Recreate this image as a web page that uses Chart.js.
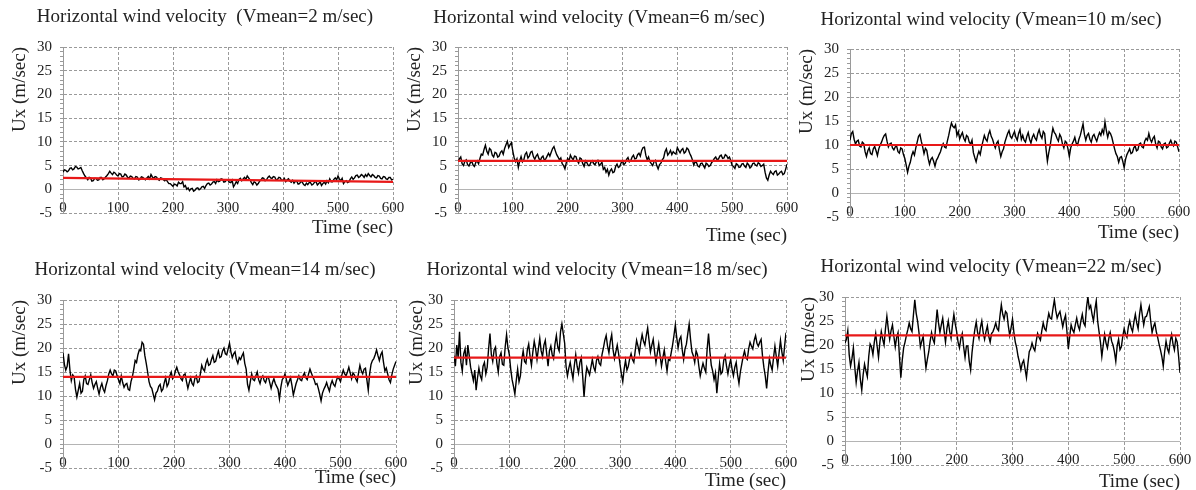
<!DOCTYPE html>
<html>
<head>
<meta charset="utf-8">
<script src="https://cdn.jsdelivr.net/npm/chart.js@4.4.0/dist/chart.umd.min.js"></script>
<style>
html, body { margin: 0; padding: 0; background: #fff; overflow: hidden; }
body { width: 1196px; height: 490px; position: relative; }
.panel { position: absolute; }
</style>
</head>
<body>
<div class="panel" id="p0"><canvas id="c0"></canvas></div>
<div class="panel" id="p1"><canvas id="c1"></canvas></div>
<div class="panel" id="p2"><canvas id="c2"></canvas></div>
<div class="panel" id="p3"><canvas id="c3"></canvas></div>
<div class="panel" id="p4"><canvas id="c4"></canvas></div>
<div class="panel" id="p5"><canvas id="c5"></canvas></div>
<script>
// time axis (sec): main samples and the in-between samples
const time = [
  0, 5, 10, 15, 20, 25, 30, 35, 40, 45,
  50, 55, 60, 65, 70, 75, 80, 85, 90, 95,
  100, 105, 110, 115, 120, 125, 130, 135, 140, 145,
  150, 155, 160, 165, 170, 175, 180, 185, 190, 195,
  200, 205, 210, 215, 220, 225, 230, 235, 240, 245,
  250, 255, 260, 265, 270, 275, 280, 285, 290, 295,
  300, 305, 310, 315, 320, 325, 330, 335, 340, 345,
  350, 355, 360, 365, 370, 375, 380, 385, 390, 395,
  400, 405, 410, 415, 420, 425, 430, 435, 440, 445,
  450, 455, 460, 465, 470, 475, 480, 485, 490, 495,
  500, 505, 510, 515, 520, 525, 530, 535, 540, 545,
  550, 555, 560, 565, 570, 575, 580, 585, 590, 595,
  600
];
const timeMid = [
  2.5, 7.5, 12.5, 17.5, 22.5, 27.5, 32.5, 37.5, 42.5, 47.5,
  52.5, 57.5, 62.5, 67.5, 72.5, 77.5, 82.5, 87.5, 92.5, 97.5,
  102.5, 107.5, 112.5, 117.5, 122.5, 127.5, 132.5, 137.5, 142.5, 147.5,
  152.5, 157.5, 162.5, 167.5, 172.5, 177.5, 182.5, 187.5, 192.5, 197.5,
  202.5, 207.5, 212.5, 217.5, 222.5, 227.5, 232.5, 237.5, 242.5, 247.5,
  252.5, 257.5, 262.5, 267.5, 272.5, 277.5, 282.5, 287.5, 292.5, 297.5,
  302.5, 307.5, 312.5, 317.5, 322.5, 327.5, 332.5, 337.5, 342.5, 347.5,
  352.5, 357.5, 362.5, 367.5, 372.5, 377.5, 382.5, 387.5, 392.5, 397.5,
  402.5, 407.5, 412.5, 417.5, 422.5, 427.5, 432.5, 437.5, 442.5, 447.5,
  452.5, 457.5, 462.5, 467.5, 472.5, 477.5, 482.5, 487.5, 492.5, 497.5,
  502.5, 507.5, 512.5, 517.5, 522.5, 527.5, 532.5, 537.5, 542.5, 547.5,
  552.5, 557.5, 562.5, 567.5, 572.5, 577.5, 582.5, 587.5, 592.5, 597.5
];

// Ux (m/sec)
const ux2 = [
  3.6, 4.0, 3.9, 4.5, 4.3, 4.7, 4.4, 3.9, 2.8, 2.0,
  2.4, 1.8, 2.3, 2.0, 2.5, 2.2, 2.9, 3.8, 3.1, 3.4,
  2.8, 3.2, 2.7, 3.0, 2.4, 2.7, 2.2, 2.6, 2.1, 2.5,
  2.0, 2.7, 3.1, 2.3, 2.6, 1.9, 2.3, 1.8, 1.6, 1.2,
  0.6, 1.0, 1.5, 1.2, 0.5, 0.0, -0.3, 0.2, -0.2, 0.3,
  0.1, 0.6, 0.8, 1.3, 1.1, 1.6, 2.0, 1.7, 2.1, 1.6,
  1.9, 1.4, 0.5, 1.6, 2.1, 1.8, 2.5, 2.8, 2.0, 1.0,
  1.4, 1.2, 2.0, 2.3, 2.0, 2.8, 2.3, 2.6, 2.1, 2.4,
  1.9, 1.6, 2.2, 1.5, 1.3, 1.7, 1.2, 1.5, 0.8, 1.0,
  1.4, 1.1, 1.6, 1.2, 0.8, 1.5, 1.8, 2.2, 1.6, 2.4,
  2.8, 1.8, 1.2, 1.8, 1.6, 2.6, 2.4, 3.0, 2.7, 2.9,
  3.1, 3.3, 2.6, 2.9, 2.4, 2.8, 2.2, 2.6, 2.1, 2.5,
  2.1
];
const ux2Mid = [
  4.1, 3.7, 4.4, 4.1, 4.8, 4.3, 4.6, 3.3, 2.4, 2.5,
  1.7, 2.3, 1.9, 2.5, 2.0, 2.6, 3.3, 3.4, 3.6, 3.0,
  3.3, 2.6, 3.2, 2.5, 2.8, 2.3, 2.7, 2.0, 2.6, 2.2,
  2.4, 2.2, 2.6, 2.7, 2.1, 2.4, 2.0, 2.1, 1.2, 0.9,
  1.1, 0.7, 1.2, 1.6, 0.8, 0.3, 0.1, -0.4, 0.2, -0.1,
  0.5, 0.2, 1.2, 0.9, 1.5, 1.2, 1.6, 2.2, 1.5, 2.0,
  1.5, 1.9, 1.0, 1.2, 2.3, 2.2, 2.1, 2.4, 1.4, 1.6,
  0.9, 1.7, 2.4, 1.8, 2.5, 2.4, 2.7, 2.0, 2.5, 1.9,
  2.3, 2.0, 1.7, 1.9, 1.7, 1.1, 1.6, 1.0, 1.3, 1.4,
  0.9, 1.5, 0.9, 1.6, 1.2, 1.1, 1.4, 1.6, 2.1, 2.0,
  2.2, 2.3, 1.6, 1.4, 2.2, 2.1, 2.9, 2.5, 3.1, 2.5,
  2.7, 2.9, 3.1, 2.5, 2.9, 2.3, 2.7, 2.2, 2.5, 2.0
];
const ux6 = [
  5.8, 6.8, 5.0, 6.2, 4.9, 5.9, 4.8, 6.0, 6.5, 7.2,
  9.3, 7.4, 8.3, 6.8, 7.6, 7.0, 8.1, 8.6, 10.1, 9.4,
  8.0, 5.8, 4.6, 6.9, 6.2, 7.8, 7.0, 8.0, 6.3, 7.4,
  6.0, 7.0, 6.4, 7.6, 7.8, 9.0, 7.3, 6.2, 5.4, 4.3,
  6.5, 7.2, 6.2, 6.9, 5.5, 6.4, 4.8, 5.6, 5.0, 6.0,
  5.2, 6.1, 5.3, 4.2, 3.6, 3.0, 4.3, 3.7, 5.3, 4.8,
  6.0, 5.5, 6.7, 6.0, 7.2, 6.5, 7.6, 8.2, 8.9, 6.2,
  5.8, 5.0, 6.1, 4.3, 5.5, 6.6, 8.5, 7.6, 7.3, 7.6,
  8.8, 7.7, 8.6, 7.9, 8.4, 7.0, 5.1, 5.6, 4.7, 5.5,
  4.5, 5.3, 5.0, 6.0, 6.8, 6.4, 7.2, 6.6, 7.1, 6.8,
  5.0, 4.4, 5.2, 4.7, 5.4, 4.6, 5.2, 4.8, 5.5, 4.9,
  5.4, 5.0, 3.6, 1.9, 3.8, 3.1, 3.9, 3.2, 3.8, 3.3,
  5.3
];
const ux6Mid = [
  6.4, 5.4, 5.9, 5.2, 5.6, 5.1, 5.7, 5.4, 7.4, 8.4,
  8.0, 8.6, 7.2, 7.8, 6.8, 7.8, 7.4, 9.4, 8.8, 9.8,
  6.6, 6.4, 6.0, 5.8, 7.4, 6.6, 7.8, 6.9, 7.0, 6.5,
  6.7, 6.1, 7.0, 7.0, 8.6, 8.1, 6.8, 6.6, 5.0, 5.6,
  6.0, 6.6, 7.0, 6.0, 6.6, 5.4, 6.0, 5.0, 5.7, 5.4,
  5.8, 5.0, 5.7, 4.6, 4.2, 3.9, 3.5, 4.8, 4.6, 5.6,
  5.2, 6.3, 5.8, 6.8, 6.4, 7.3, 7.0, 8.8, 7.2, 6.8,
  5.4, 5.8, 5.0, 5.2, 6.2, 7.9, 7.2, 8.2, 7.9, 7.4,
  8.2, 8.3, 7.6, 8.7, 7.6, 6.2, 5.8, 4.9, 5.4, 5.0,
  5.5, 4.8, 5.6, 6.5, 6.2, 7.0, 6.5, 7.3, 6.5, 6.0,
  4.8, 5.4, 4.6, 5.3, 4.9, 5.5, 4.5, 5.4, 5.1, 5.6,
  4.8, 5.3, 2.4, 3.0, 3.4, 3.7, 3.0, 3.6, 3.1, 4.2
];
const ux10 = [
  11.0, 12.8, 10.2, 11.0, 9.6, 10.3, 7.6, 9.4, 8.0, 9.7,
  7.8, 10.0, 11.4, 12.3, 9.6, 10.4, 9.0, 9.8, 8.3, 9.2,
  7.2, 4.3, 6.4, 8.6, 9.4, 11.8, 10.8, 8.2, 8.9, 6.0,
  7.4, 5.6, 7.3, 8.6, 10.3, 9.4, 12.0, 14.6, 13.6, 12.0,
  11.3, 12.6, 10.8, 11.7, 10.2, 8.4, 6.5, 8.7, 9.6, 12.0,
  10.8, 13.0, 11.2, 9.4, 10.8, 7.6, 9.2, 11.5, 13.0, 11.4,
  12.8, 11.0, 13.2, 12.0, 10.6, 12.6, 10.4, 12.2, 11.0, 13.2,
  11.4, 12.4, 6.6, 9.8, 13.5, 12.2, 10.8, 11.6, 9.4, 10.5,
  7.6, 10.2, 11.6, 10.0, 12.0, 14.4, 11.0, 12.4, 10.6, 12.2,
  10.8, 12.6, 13.2, 14.8, 11.6, 12.4, 10.4, 8.2, 6.4, 7.6,
  5.3, 8.0, 9.2, 8.4, 9.8, 9.0, 10.4, 9.4, 11.4, 12.4,
  10.6, 11.8, 9.4, 10.6, 9.2, 10.4, 9.6, 11.0, 9.8, 10.6,
  8.6
];
const ux10Mid = [
  12.4, 11.2, 10.8, 9.8, 10.6, 8.6, 8.8, 8.2, 9.2, 8.8,
  9.2, 10.6, 12.0, 10.8, 10.2, 9.4, 9.6, 8.6, 9.4, 8.0,
  5.8, 5.6, 7.8, 7.9, 10.6, 12.2, 9.6, 9.3, 7.2, 7.0,
  6.6, 6.8, 8.0, 9.6, 9.6, 10.8, 13.4, 13.9, 14.2, 12.8,
  12.0, 11.4, 12.0, 10.6, 11.0, 7.4, 7.8, 8.0, 10.8, 11.2,
  12.2, 11.8, 10.2, 10.4, 9.0, 8.6, 10.6, 12.4, 11.8, 12.2,
  11.6, 12.4, 11.2, 11.0, 11.8, 11.2, 11.6, 11.4, 12.4, 12.0,
  12.8, 9.2, 8.4, 11.8, 12.6, 11.4, 12.2, 10.2, 10.8, 9.2,
  9.4, 10.8, 10.4, 11.2, 13.2, 12.2, 12.0, 11.2, 11.8, 11.4,
  11.8, 12.0, 12.4, 13.0, 12.8, 11.6, 9.2, 7.6, 7.4, 6.6,
  7.0, 8.6, 8.2, 9.4, 8.8, 10.2, 9.6, 10.8, 11.0, 11.2,
  11.4, 10.2, 10.8, 9.6, 10.2, 9.4, 10.4, 10.2, 10.8, 9.6
];
const ux14 = [
  19.0, 15.4, 18.8, 13.2, 14.0, 9.8, 12.6, 11.0, 14.2, 12.4,
  14.4, 11.6, 13.0, 10.4, 12.6, 10.8, 13.2, 15.4, 14.2, 15.2,
  13.4, 14.2, 11.8, 12.6, 11.2, 14.0, 17.4, 18.6, 19.4, 20.8,
  16.8, 13.0, 11.6, 9.2, 11.0, 12.4, 11.4, 13.8, 12.6, 15.0,
  14.0, 16.0, 14.4, 13.2, 14.6, 11.6, 13.8, 12.2, 14.2, 13.0,
  16.4, 15.2, 17.6, 16.6, 18.4, 17.2, 19.4, 18.2, 20.0, 18.6,
  21.0, 18.0, 19.2, 16.8, 17.6, 19.0, 15.6, 11.2, 14.6, 13.2,
  15.0, 12.6, 14.2, 12.8, 14.0, 11.6, 13.6, 12.0, 9.4, 13.4,
  14.6, 12.2, 13.8, 10.2, 12.6, 14.2, 13.2, 14.8, 13.4, 15.6,
  14.0, 12.4, 11.6, 9.0, 11.4, 12.8, 11.0, 13.2, 12.0, 14.0,
  13.0, 15.4, 14.2, 16.0, 13.6, 14.4, 13.0, 16.4, 14.6, 15.8,
  11.2, 16.6, 17.8, 19.6, 17.4, 19.2, 15.2, 14.6, 12.8, 15.6,
  17.2
];
const ux14Mid = [
  16.6, 16.2, 15.4, 14.4, 11.4, 11.2, 10.6, 13.4, 12.6, 13.4,
  12.8, 12.4, 11.6, 11.8, 11.4, 12.2, 14.6, 14.6, 15.4, 14.2,
  12.6, 12.8, 12.4, 11.4, 13.0, 15.6, 17.0, 19.6, 21.2, 18.4,
  15.0, 12.0, 10.4, 10.6, 12.0, 11.0, 12.8, 12.0, 14.2, 13.6,
  15.2, 15.0, 13.6, 14.4, 13.0, 12.8, 12.6, 13.6, 12.8, 14.6,
  15.6, 16.8, 16.4, 17.6, 17.0, 18.4, 18.0, 19.4, 18.8, 19.8,
  19.2, 18.8, 17.6, 18.0, 18.4, 16.8, 12.4, 13.0, 13.4, 14.2,
  13.4, 13.8, 13.2, 13.8, 12.8, 12.8, 12.6, 11.4, 11.8, 13.8,
  13.4, 13.0, 12.2, 11.4, 13.4, 13.4, 14.2, 13.8, 14.6, 14.8,
  13.4, 12.6, 10.4, 10.6, 12.0, 11.8, 12.4, 12.4, 13.2, 13.6,
  14.4, 14.6, 15.0, 14.8, 14.8, 13.6, 14.8, 15.2, 15.6, 13.4,
  14.6, 17.4, 18.6, 18.4, 18.6, 17.0, 15.8, 13.4, 14.4, 16.4
];
const ux18 = [
  18.4, 20.6, 23.4, 15.2, 19.8, 20.6, 16.0, 13.2, 11.2, 15.8,
  13.4, 17.0, 16.0, 23.0, 17.2, 20.2, 15.0, 19.0, 16.4, 22.8,
  18.6, 13.4, 10.4, 15.6, 14.2, 19.4, 16.8, 20.8, 16.4, 21.4,
  17.6, 22.0, 18.2, 21.6, 16.2, 20.4, 17.8, 22.6, 19.4, 25.0,
  21.0, 14.2, 17.0, 13.6, 18.6, 14.8, 18.0, 9.8, 16.0, 14.4,
  17.6, 15.2, 18.2, 16.4, 20.0, 22.6, 19.0, 22.8, 17.8, 20.6,
  16.6, 13.0, 17.4, 16.2, 18.8, 17.0, 21.6, 19.0, 22.8, 20.6,
  24.2, 19.2, 21.8, 17.0, 20.8, 16.2, 19.6, 15.2, 17.4, 20.6,
  24.8, 20.0, 22.4, 17.6, 20.8, 25.0, 19.2, 17.0, 18.6, 14.2,
  16.8, 15.0, 23.0, 16.4, 13.4, 10.6, 16.8, 15.0, 18.4, 14.6,
  17.6, 14.2, 17.0, 12.6, 16.6, 19.4, 17.6, 21.2, 19.8, 22.6,
  20.4, 21.8, 16.0, 11.6, 17.8, 15.4, 20.4, 16.2, 21.6, 17.4,
  23.2
];
const ux18Mid = [
  16.2, 18.0, 17.0, 18.8, 16.4, 18.4, 14.6, 15.4, 13.8, 14.2,
  16.2, 14.6, 19.8, 18.6, 19.6, 16.8, 18.2, 16.6, 20.2, 20.0,
  15.6, 12.0, 13.2, 13.0, 17.6, 17.2, 19.6, 18.2, 19.2, 19.8,
  19.8, 19.4, 20.6, 18.8, 19.4, 18.6, 20.8, 20.2, 23.4, 23.0,
  16.2, 15.8, 15.2, 16.4, 16.2, 17.0, 14.2, 13.6, 15.2, 16.0,
  16.0, 17.4, 16.8, 18.6, 21.6, 20.4, 21.4, 19.6, 19.2, 18.8,
  14.6, 15.6, 15.4, 17.8, 17.6, 19.4, 20.4, 21.2, 21.4, 22.6,
  21.6, 20.6, 19.2, 19.0, 18.4, 18.0, 17.2, 17.6, 19.0, 22.6,
  22.2, 21.8, 19.6, 19.8, 23.0, 21.8, 18.4, 19.4, 16.2, 15.6,
  15.8, 19.8, 19.2, 15.2, 14.8, 13.8, 14.6, 17.4, 16.2, 16.4,
  15.6, 16.0, 14.4, 15.0, 18.2, 18.0, 19.8, 20.4, 21.6, 21.0,
  21.2, 18.4, 14.2, 15.0, 16.4, 18.0, 18.2, 19.0, 19.2, 20.4
];
const ux22 = [
  20.4, 23.0, 15.6, 19.4, 12.2, 16.4, 10.6, 16.0, 13.4, 20.2,
  18.0, 22.4, 17.4, 22.8, 20.0, 26.0, 21.2, 24.2, 19.6, 22.6,
  13.2, 19.4, 22.0, 24.6, 22.8, 29.4, 25.0, 19.6, 21.8, 15.2,
  18.6, 22.6, 20.4, 27.4, 22.6, 25.6, 20.6, 25.0, 21.4, 26.4,
  22.8, 19.4, 22.4, 17.4, 19.8, 14.8, 21.0, 24.8, 21.4, 25.0,
  21.2, 24.0, 20.6, 22.8, 24.6, 23.0, 28.4, 25.4, 26.6, 22.0,
  25.4, 20.6, 17.6, 14.8, 16.8, 13.2, 18.6, 20.4, 18.8, 22.4,
  21.0, 24.6, 23.0, 26.6, 25.4, 29.4, 25.6, 27.0, 23.8, 26.2,
  19.2, 24.2, 22.6, 25.6, 23.2, 26.4, 24.0, 30.0, 28.2, 25.0,
  29.2, 22.8, 17.6, 22.2, 19.4, 22.6, 20.0, 16.6, 21.2, 19.6,
  23.4, 21.6, 25.0, 22.8, 26.4, 23.4, 28.4, 24.2, 26.0, 28.0,
  22.6, 24.6, 21.6, 19.0, 15.6, 20.8, 18.4, 22.2, 19.0, 20.6,
  14.2
];
const ux22Mid = [
  21.2, 18.0, 17.2, 15.4, 14.6, 12.8, 13.8, 14.6, 17.6, 19.6,
  20.6, 19.8, 20.6, 21.2, 23.4, 23.4, 23.0, 21.8, 21.6, 17.6,
  16.8, 20.6, 23.2, 23.4, 26.2, 26.6, 22.6, 20.8, 18.2, 17.0,
  20.8, 21.2, 24.0, 24.6, 24.2, 23.0, 23.4, 22.8, 24.2, 24.4,
  20.6, 21.4, 19.6, 19.8, 16.6, 18.4, 23.2, 22.6, 23.6, 22.6,
  22.8, 21.8, 22.4, 23.6, 23.4, 26.0, 26.4, 27.0, 24.0, 23.6,
  22.6, 19.4, 16.4, 16.2, 15.0, 16.0, 19.2, 19.4, 20.8, 21.6,
  23.0, 23.4, 25.0, 25.6, 27.6, 27.2, 26.4, 25.4, 25.2, 22.8,
  21.8, 23.2, 24.2, 24.0, 25.0, 24.6, 27.8, 27.6, 26.4, 27.4,
  25.0, 20.6, 20.0, 20.4, 21.4, 20.8, 18.6, 19.8, 19.0, 21.8,
  22.2, 23.8, 23.6, 24.8, 24.6, 26.4, 26.2, 25.8, 27.0, 25.0,
  23.8, 22.8, 20.2, 17.6, 18.6, 19.2, 20.8, 20.2, 21.4, 17.6
];

const series = [ux2, ux6, ux10, ux14, ux18, ux22];
const seriesMid = [ux2Mid, ux6Mid, ux10Mid, ux14Mid, ux18Mid, ux22Mid];
const titles = [
  'Horizontal wind velocity  (Vmean=2 m/sec)',
  'Horizontal wind velocity (Vmean=6 m/sec)',
  'Horizontal wind velocity (Vmean=10 m/sec)',
  'Horizontal wind velocity (Vmean=14 m/sec)',
  'Horizontal wind velocity (Vmean=18 m/sec)',
  'Horizontal wind velocity (Vmean=22 m/sec)'
];
// red mean line, value at t=0 and t=600
const meanStart = [2.4, 6, 10, 14, 18, 22];
const meanEnd = [1.55, 6, 10, 14, 18, 22];

// page geometry of each panel: canvas origin, plot edges, title centre,
// y-title centre x, x-title centre y
const boxes = [
  { x0: 0,   y0: 0,   L: 63,  R: 393,  T: 47,  B: 213, cx: 205, cy: 17,  yTx: 20,    tY: 228 },
  { x0: 395, y0: 0,   L: 458, R: 787,  T: 47,  B: 213, cx: 599, cy: 18,  yTx: 415,   tY: 236 },
  { x0: 790, y0: 0,   L: 850, R: 1179, T: 49,  B: 217, cx: 991, cy: 20,  yTx: 807.5, tY: 232.5 },
  { x0: 0,   y0: 245, L: 63,  R: 396,  T: 300, B: 468, cx: 205, cy: 270, yTx: 20,    tY: 478 },
  { x0: 395, y0: 245, L: 454, R: 786,  T: 300, B: 468, cx: 597, cy: 270, yTx: 417.5, tY: 481 },
  { x0: 788, y0: 245, L: 845, R: 1180, T: 297, B: 465, cx: 991, cy: 267, yTx: 809.5, tY: 482 }
];

Chart.defaults.font.family = '"Liberation Serif", "Times New Roman", serif';
Chart.defaults.color = '#222';

const gridGray = '#9a9a9a';
const zeroGray = '#b4b4b4';
const bigFont = 19;
const lh = bigFont * 1.2;
const padRight = 14;

function isZero(c) {
  return c.tick && Math.round(c.tick.value) === 0;
}

for (let i = 0; i < 6; i++) {
  const b = boxes[i];
  const w = b.R + padRight - b.x0;
  const h = Math.round(b.tY + lh / 2 - b.y0);
  const padLeft = 2 * b.cx - b.x0 - b.R;
  const yW = b.L - b.x0 - padLeft;
  const xH = h - (b.B - b.y0);
  const tTop = b.cy - b.y0 - lh / 2;
  const tBot = (b.T - b.y0) - tTop - lh;
  const yPad = (b.yTx - b.x0 - padLeft) - lh / 2;

  const div = document.getElementById('p' + i);
  div.style.left = b.x0 + 'px';
  div.style.top = b.y0 + 'px';
  const cv = document.getElementById('c' + i);
  cv.width = w;
  cv.height = h;

  const pts = time.map((t, k) => ({ x: t, y: series[i][k] }))
    .concat(timeMid.map((t, k) => ({ x: t, y: seriesMid[i][k] })))
    .sort((a, c) => a.x - c.x);
  const meanPts = [
    { x: time[0], y: meanStart[i] },
    { x: time[time.length - 1], y: meanEnd[i] }
  ];

  new Chart(cv.getContext('2d'), {
    type: 'line',
    data: {
      datasets: [
        {
          label: 'Vmean',
          data: meanPts,
          borderColor: '#e81818',
          borderWidth: 2.2,
          pointRadius: 0
        },
        {
          label: 'Ux',
          data: pts,
          borderColor: '#000',
          borderWidth: 1.4,
          pointRadius: 0,
          tension: 0
        }
      ]
    },
    options: {
      responsive: false,
      animation: false,
      layout: { padding: { left: padLeft, top: 0, bottom: 0, right: padRight } },
      plugins: {
        legend: { display: false },
        tooltip: { enabled: false },
        title: {
          display: true,
          text: titles[i],
          font: { size: bigFont, weight: 'normal' },
          color: '#222',
          padding: { top: tTop, bottom: tBot }
        }
      },
      scales: {
        x: {
          type: 'linear',
          min: 0,
          max: 600,
          afterFit: function (s) { s.height = xH; },
          ticks: {
            stepSize: 100,
            autoSkip: false,
            maxRotation: 0,
            mirror: true,   // keeps labels from being clipped, they sit on the -5 line
            padding: -4,
            font: { size: 15 }
          },
          grid: {
            color: gridGray,
            drawTicks: false
          },
          border: {
            display: false,
            dash: function (c) { return isZero(c) ? [] : [3, 2]; }
          },
          title: {
            display: true,
            text: 'Time (sec)',
            align: 'end',
            font: { size: bigFont },
            padding: { top: 0, bottom: 0 }
          }
        },
        y: {
          min: -5,
          max: 30,
          afterFit: function (s) { s.width = yW; },
          ticks: {
            stepSize: 1,
            autoSkip: false,
            padding: 8,
            font: { size: 15 },
            callback: function (v) {
              return Math.round(v) % 5 === 0 ? String(Math.round(v)) : '';
            }
          },
          grid: {
            color: function (c) {
              if (!c.tick) return gridGray;
              const v = Math.round(c.tick.value);
              if (v === 0) return zeroGray;
              return v % 5 === 0 ? gridGray : 'rgba(0,0,0,0)';
            },
            tickColor: gridGray,
            tickLength: 3,
            drawTicks: true
          },
          border: {
            display: true,
            color: gridGray,
            dash: function (c) { return isZero(c) ? [] : [3, 2]; }
          },
          title: {
            display: true,
            text: 'Ux (m/sec)',
            align: 'end',
            font: { size: bigFont },
            padding: { top: yPad, bottom: 0 }
          }
        }
      }
    }
  });
}
</script>
</body>
</html>
